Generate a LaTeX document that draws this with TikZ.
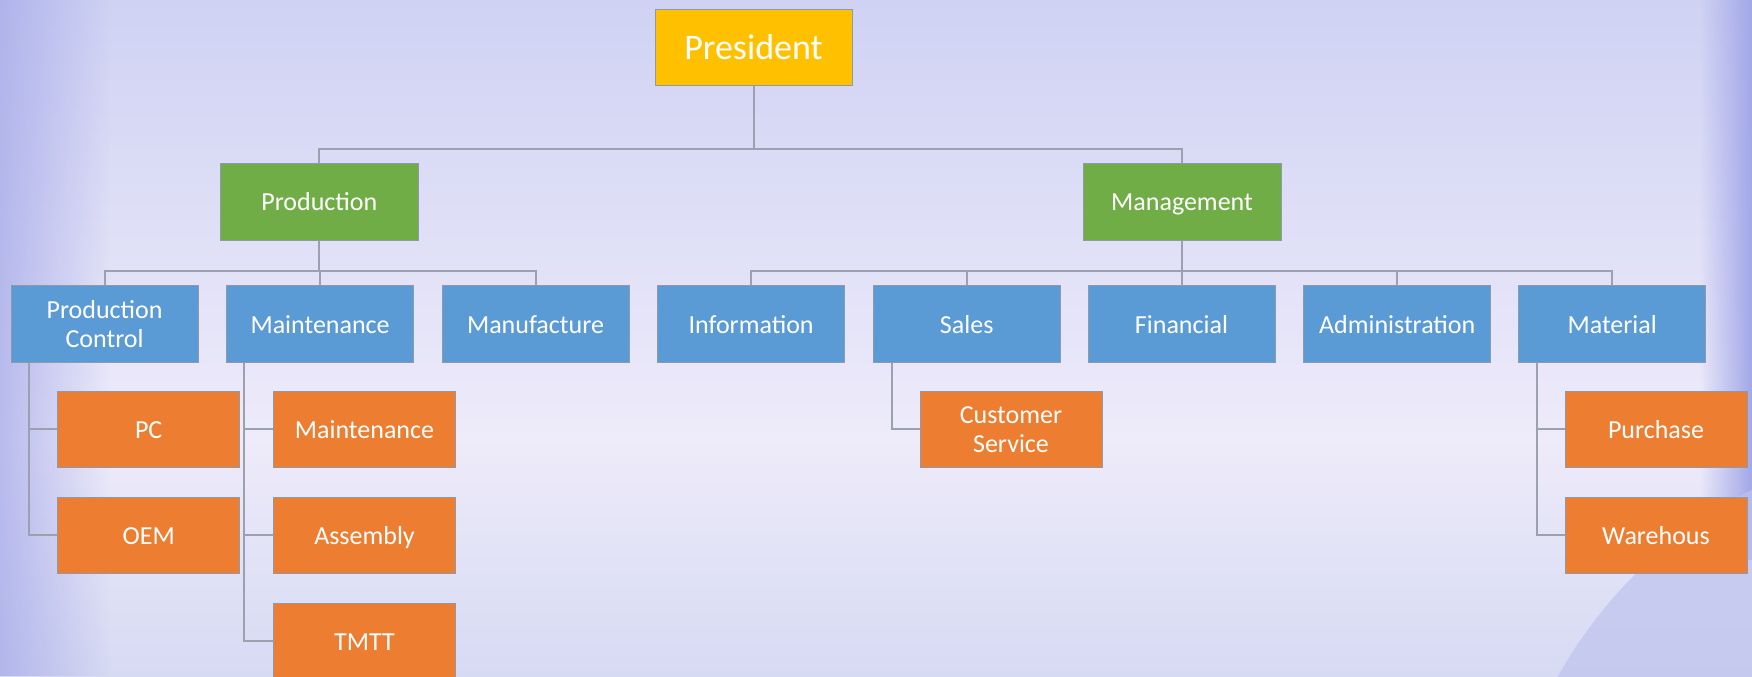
\documentclass[tikz,border=0pt]{standalone}
\usepackage{fontspec}
\setmainfont{Carlito}
\usetikzlibrary{fadings}
\definecolor{bgtop}{HTML}{CFD2F3}
\definecolor{bgmid}{HTML}{EEEBFA}
\definecolor{bgbot}{HTML}{D6DAF3}
\definecolor{edgeblue}{HTML}{A2A7E8}
\definecolor{globe}{HTML}{BFC3EE}
\definecolor{cpres}{HTML}{FFC000}
\definecolor{cgreen}{HTML}{70AD47}
\definecolor{cblue}{HTML}{5B9BD5}
\definecolor{corange}{HTML}{ED7D31}
\definecolor{cborder}{HTML}{8F99AC}
\definecolor{cline}{HTML}{9CA1B0}
\tikzset{
  box/.style={draw=cborder, line width=0.5pt, text=white, align=center, inner sep=1pt, font=\fontsize{13}{14.5}\selectfont, text height=9pt, text depth=0pt},
  twoline/.style={text height=, text depth=},
  presbox/.style={box, fill=cpres, minimum width=98.5pt, minimum height=38pt, font=\fontsize{18}{20}\selectfont, text height=12.4pt},
  greenbox/.style={box, fill=cgreen, minimum width=99pt, minimum height=38.5pt},
  bluebox/.style={box, fill=cblue, minimum width=93.5pt, minimum height=38.3pt},
  orangebox/.style={box, fill=corange, minimum width=91pt, minimum height=38pt},
  conn/.style={draw=cline, line width=1pt},
}
\begin{document}
\begin{tikzpicture}[x=0.5pt,y=-0.5pt]
\useasboundingbox (0,0) rectangle (1752,676);
% background
\shade[top color=bgtop, bottom color=bgmid] (0,0) rectangle (1752,440);
\shade[top color=bgmid, bottom color=bgbot] (0,440) rectangle (1752,676);
\fill[edgeblue, path fading=east, opacity=0.7] (0,0) rectangle (110,676);
\fill[edgeblue, path fading=west] (1700,0) rectangle (1752,560);
\begin{scope}
\clip (0,0) rectangle (1752,676);
\fill[globe, opacity=0.7] (1960,900) circle (460);
\end{scope}
% coordinates for buses
\coordinate (bus1) at (0,148.7);
\coordinate (bus2) at (0,271);
% nodes
\node[presbox] (pres) at (753.5,47.5) {President};
\node[greenbox] (prod) at (319.3,201.5) {Production};
\node[greenbox] (mgmt) at (1182,201.5) {Management};
\node[bluebox, twoline] (pctrl) at (104.6,324) {Production\\Control};
\node[bluebox] (maint) at (320.1,324) {Maintenance};
\node[bluebox] (manuf) at (535.5,324) {Manufacture};
\node[bluebox] (info) at (751.1,324) {Information};
\node[bluebox] (sales) at (966.7,324) {Sales};
\node[bluebox] (fin) at (1181.5,324) {Financial};
\node[bluebox] (admin) at (1397.2,324) {Administration};
\node[bluebox] (mat) at (1612.2,324) {Material};
\node[orangebox] (pc) at (148.7,429.3) {PC};
\node[orangebox] (oem) at (148.7,535) {OEM};
\node[orangebox] (maint2) at (364.5,429.3) {Maintenance};
\node[orangebox] (assy) at (364.5,535) {Assembly};
\node[orangebox] (tmtt) at (364.5,641) {TMTT};
\node[orangebox, twoline] (cs) at (1011,429.3) {Customer\\Service};
\node[orangebox] (purch) at (1656,429.3) {Purchase};
\node[orangebox] (ware) at (1656,535) {Warehous};
% connectors level 1
\draw[conn] (pres.south) -- (pres.south |- bus1) -| (prod.north);
\draw[conn] (pres.south |- bus1) -| (mgmt.north);
% level 2 production
\draw[conn] (prod.south) -- (prod.south |- bus2);
\draw[conn] (pctrl.north) -- (pctrl.north |- bus2) -- (manuf.north |- bus2) -- (manuf.north);
\draw[conn] (maint.north |- bus2) -- (maint.north);
% level 2 management
\draw[conn] (mgmt.south) -- (mgmt.south |- bus2);
\draw[conn] (info.north) -- (info.north |- bus2) -- (mat.north |- bus2) -- (mat.north);
\draw[conn] (sales.north |- bus2) -- (sales.north);
\draw[conn] (fin.north |- bus2) -- (fin.north);
\draw[conn] (admin.north |- bus2) -- (admin.north);
% level 3
\draw[conn] ([xshift=9pt]pctrl.south west) |- (pc.west);
\draw[conn] ([xshift=9pt]pctrl.south west) |- (oem.west);
\draw[conn] ([xshift=9pt]maint.south west) |- (maint2.west);
\draw[conn] ([xshift=9pt]maint.south west) |- (assy.west);
\draw[conn] ([xshift=9pt]maint.south west) |- (tmtt.west);
\draw[conn] ([xshift=9.5pt]sales.south west) |- (cs.west);
\draw[conn] ([xshift=9.5pt]mat.south west) |- (purch.west);
\draw[conn] ([xshift=9.5pt]mat.south west) |- (ware.west);
\end{tikzpicture}
\end{document}
